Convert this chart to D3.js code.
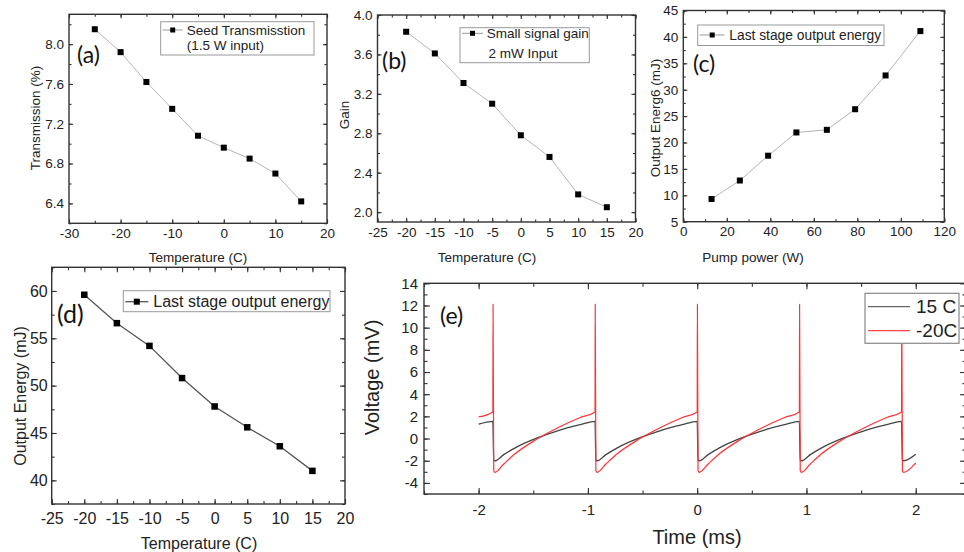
<!DOCTYPE html>
<html>
<head>
<meta charset="utf-8">
<script src="https://cdn.jsdelivr.net/npm/d3@7"></script>
<style>
body { margin: 0; background: #fff; }
svg { display: block; font-family: "Liberation Sans", Arial, sans-serif; }
</style>
</head>
<body>
<div id="chart"></div>
<script>
// (a) seed transmission vs temperature
var tempA = [-25, -20, -15, -10, -5, 0, 5, 10, 15];
var transA = [8.15, 7.92, 7.62, 7.35, 7.08, 6.96, 6.85, 6.70, 6.42];
// (b) small signal gain vs temperature
var tempB = [-20, -15, -10, -5, 0, 5, 10, 15];
var gainB = [3.83, 3.61, 3.31, 3.10, 2.78, 2.56, 2.18, 2.05];
// (c) last stage output energy vs pump power
var pumpC = [13, 26, 39, 52, 66, 79, 93, 109];
var energyC = [9.3, 12.8, 17.5, 21.9, 22.4, 26.3, 32.7, 41.1];
// (d) last stage output energy vs temperature
var tempD = [-20, -15, -10, -5, 0, 5, 10, 15];
var energyD = [59.6, 56.6, 54.2, 50.8, 47.8, 45.6, 43.6, 41.0];

// (e) scope traces, time in ms, voltage in mV
var timeRed = [-2.0, -1.87, -1.868, -1.862, -1.85, -1.77, -1.67, -1.47, -1.27, -1.07,
	-0.935, -0.933, -0.927, -0.915, -0.835, -0.735, -0.535, -0.335, -0.135,
	0.0, 0.002, 0.008, 0.02, 0.1, 0.2, 0.4, 0.6, 0.8,
	0.935, 0.937, 0.943, 0.955, 1.035, 1.135, 1.335, 1.535, 1.735,
	1.87, 1.872, 1.878, 1.89, 2.0];
var voltRed = [1.95, 2.4, 12.1, -2.9, -3.05, -2.3, -1.4, -0.07, 1.0, 1.9,
	2.4, 12.1, -2.9, -3.05, -2.3, -1.4, -0.07, 1.0, 1.9,
	2.4, 12.1, -2.9, -3.05, -2.3, -1.4, -0.07, 1.0, 1.9,
	2.4, 12.1, -2.9, -3.05, -2.3, -1.4, -0.07, 1.0, 1.9,
	2.4, 12.1, -2.9, -3.05, -2.2];
var timeGray = [-2.0, -1.87, -1.862, -1.85, -1.77, -1.67, -1.47, -1.27, -1.07,
	-0.935, -0.927, -0.915, -0.835, -0.735, -0.535, -0.335, -0.135,
	0.0, 0.008, 0.02, 0.1, 0.2, 0.4, 0.6, 0.8,
	0.935, 0.943, 0.955, 1.035, 1.135, 1.335, 1.535, 1.735,
	1.87, 1.878, 1.89, 2.0];
var voltGray = [1.29, 1.55, -1.95, -2.0, -1.45, -0.86, 0.03, 0.72, 1.25,
	1.55, -1.95, -2.0, -1.45, -0.86, 0.03, 0.72, 1.25,
	1.55, -1.95, -2.0, -1.45, -0.86, 0.03, 0.72, 1.25,
	1.55, -1.95, -2.0, -1.45, -0.86, 0.03, 0.72, 1.25,
	1.55, -1.95, -2.0, -1.42];

// tick values
var ticksA_x = [-30, -20, -10, 0, 10, 20], ticksA_y = [6.4, 6.8, 7.2, 7.6, 8.0];
var ticksB_x = [-25, -20, -15, -10, -5, 0, 5, 10, 15, 20], ticksB_y = [2.0, 2.4, 2.8, 3.2, 3.6, 4.0];
var ticksC_x = [0, 20, 40, 60, 80, 100, 120], ticksC_y = [5, 10, 15, 20, 25, 30, 35, 40, 45];
var ticksD_x = [-25, -20, -15, -10, -5, 0, 5, 10, 15, 20], ticksD_y = [40, 45, 50, 55, 60];
var ticksE_x = [-2, -1, 0, 1, 2], ticksE_y = [-4, -2, 0, 2, 4, 6, 8, 10, 12, 14];

var svg = d3.select("#chart").append("svg")
	.attr("width", 964)
	.attr("height", 552);

// plain hyphen minus like the original figure
function fmtWith(spec){
	var f = d3.format(spec);
	return function(v){ return f(v).replace("\u2212", "-"); };
}

function minors(major, step, dom){
	var out = [];
	var lo = major[0] - step, hi = major[major.length - 1] + step;
	for (var v = lo; v <= hi + 1e-9; v += step) {
		var r = Math.round(v * 1000) / 1000;
		if (r >= dom[0] - 1e-9 && r <= dom[1] + 1e-9) out.push(r);
	}
	return out;
}

function styleAxis(g, fs){
	g.select(".domain").remove();
	g.attr("font-family", null);
	g.selectAll("line").attr("stroke", "#333").attr("stroke-width", 1.1);
	g.selectAll("text").attr("fill", "#222").attr("font-size", fs);
}

function panel(p){
	var x = d3.scaleLinear().domain(p.xDomain).range([p.left, p.right]);
	var y = d3.scaleLinear().domain(p.yDomain).range([p.bottom, p.top]);
	var g = svg.append("g");
	var xm = minors(p.xTicks, p.xStep / 2, p.xDomain);
	var ym = minors(p.yTicks, p.yStep / 2, p.yDomain);

	// minor ticks on all four sides
	[[d3.axisBottom(x), p.bottom, 0, xm], [d3.axisTop(x), p.top, 0, xm],
	 [d3.axisLeft(y), 0, p.left, ym], [d3.axisRight(y), 0, p.right, ym]].forEach(function(a){
		g.append("g").attr("transform", "translate(" + a[2] + "," + a[1] + ")")
			.call(a[0].tickValues(a[3]).tickSize(-p.minor).tickFormat(""))
			.call(styleAxis, p.fs);
	});
	// major ticks with labels
	g.append("g").attr("transform", "translate(0," + p.bottom + ")")
		.call(d3.axisBottom(x).tickValues(p.xTicks).tickSize(-p.major).tickPadding(p.padX).tickFormat(fmtWith("d")))
		.call(styleAxis, p.fs);
	g.append("g").attr("transform", "translate(" + p.left + ",0)")
		.call(d3.axisLeft(y).tickValues(p.yTicks).tickSize(-p.major).tickPadding(p.padY).tickFormat(fmtWith(p.yFmt || "d")))
		.call(styleAxis, p.fs);
	g.append("g").attr("transform", "translate(0," + p.top + ")")
		.call(d3.axisTop(x).tickValues(p.xTicks).tickSize(-p.major).tickFormat(""))
		.call(styleAxis, p.fs);
	g.append("g").attr("transform", "translate(" + p.right + ",0)")
		.call(d3.axisRight(y).tickValues(p.yTicks).tickSize(-p.major).tickFormat(""))
		.call(styleAxis, p.fs);

	g.append("rect")
		.attr("x", p.left).attr("y", p.top)
		.attr("width", p.right - p.left).attr("height", p.bottom - p.top)
		.attr("fill", "none").attr("stroke", "#333").attr("stroke-width", 1.4);

	// axis titles
	g.append("text")
		.attr("x", p.xLabelX).attr("y", p.xLabelY)
		.attr("text-anchor", "middle").attr("dominant-baseline", "central")
		.attr("font-size", p.labelFs).attr("fill", "#222")
		.text(p.xLabel);
	g.append("text")
		.attr("transform", "translate(" + p.yLabelX + "," + p.yLabelY + ") rotate(-90)")
		.attr("text-anchor", "middle").attr("dominant-baseline", "central")
		.attr("font-size", p.labelFs).attr("fill", "#222")
		.text(p.yLabel);

	// panel tag
	g.append("text")
		.attr("x", p.tagX).attr("y", p.tagY)
		.attr("dominant-baseline", "central")
		.attr("font-family", "Lato, 'Open Sans', sans-serif")
		.attr("font-size", p.tagFs).attr("fill", "#111")
		.text(p.tag);

	return {g: g, x: x, y: y};
}

function scatterLine(pn, xs, ys, color, lw, ms){
	var pts = xs.map(function(v, i){ return [v, ys[i]]; });
	pn.g.append("path")
		.attr("d", d3.line().x(function(d){ return pn.x(d[0]); }).y(function(d){ return pn.y(d[1]); })(pts))
		.attr("fill", "none").attr("stroke", color).attr("stroke-width", lw);
	pn.g.selectAll(null).data(pts).enter().append("rect")
		.attr("x", function(d){ return pn.x(d[0]) - ms / 2; })
		.attr("y", function(d){ return pn.y(d[1]) - ms / 2; })
		.attr("width", ms).attr("height", ms)
		.attr("fill", "#000");
}

function legendBox(g, b, lines, color, lw, ms, fs){
	g.append("rect")
		.attr("x", b.x).attr("y", b.y).attr("width", b.w).attr("height", b.h)
		.attr("fill", "#fff").attr("stroke", "#999").attr("stroke-width", 1);
	g.append("line")
		.attr("x1", b.x + 2).attr("x2", b.x + b.lineW).attr("y1", b.ly).attr("y2", b.ly)
		.attr("stroke", color).attr("stroke-width", lw);
	g.append("rect")
		.attr("x", b.x + 2 + (b.lineW - 2) / 2 - ms / 2).attr("y", b.ly - ms / 2)
		.attr("width", ms).attr("height", ms).attr("fill", "#000");
	lines.forEach(function(t){
		g.append("text")
			.attr("x", t.x).attr("y", t.y)
			.attr("dominant-baseline", "central")
			.attr("font-size", fs).attr("fill", "#222")
			.text(t.s);
	});
}

// ---- (a)
var pa = panel({left: 69, right: 327, top: 14.3, bottom: 223.3,
	xDomain: [-30, 20], yDomain: [6.2, 8.3], xTicks: ticksA_x, yTicks: ticksA_y,
	xStep: 10, yStep: 0.4, yFmt: ".1f", major: 4, minor: 2.5, padX: 5, padY: 5, fs: 13.5,
	xLabel: "Temperature (C)", xLabelX: 198, xLabelY: 257,
	yLabel: "Transmission (%)", yLabelX: 35, yLabelY: 118, labelFs: 13.5,
	tag: "(a)", tagX: 77, tagY: 54, tagFs: 23});
scatterLine(pa, tempA, transA, "#b5b5b5", 1, 6);
legendBox(pa.g, {x: 160.7, y: 21.7, w: 153.3, h: 33.3, lineW: 22, ly: 30},
	[{s: "Seed Transmisstion", x: 186.7, y: 30}, {s: "(1.5 W input)", x: 186.7, y: 45}],
	"#999", 1, 5, 13.5);

// ---- (b)
var pb = panel({left: 377.5, right: 635.5, top: 15, bottom: 222,
	xDomain: [-25, 20], yDomain: [1.9, 4.0], xTicks: ticksB_x, yTicks: ticksB_y,
	xStep: 5, yStep: 0.4, yFmt: ".1f", major: 4, minor: 2.5, padX: 5, padY: 5, fs: 13.5,
	xLabel: "Temperature (C)", xLabelX: 487, xLabelY: 257,
	yLabel: "Gain", yLabelX: 344, yLabelY: 115, labelFs: 13.5,
	tag: "(b)", tagX: 382, tagY: 60, tagFs: 23});
scatterLine(pb, tempB, gainB, "#b5b5b5", 1, 6);
legendBox(pb.g, {x: 460, y: 27.7, w: 129.3, h: 35, lineW: 23, ly: 33.3},
	[{s: "Small signal gain", x: 486.7, y: 33.3}, {s: "2 mW Input", x: 488.5, y: 53}],
	"#999", 1, 5, 13.5);

// ---- (c)
var pc = panel({left: 683.3, right: 944.3, top: 10.5, bottom: 221.7,
	xDomain: [0, 120], yDomain: [5, 45], xTicks: ticksC_x, yTicks: ticksC_y,
	xStep: 20, yStep: 5, major: 4, minor: 2.5, padX: 5, padY: 5, fs: 13.5,
	xLabel: "Pump power (W)", xLabelX: 753, xLabelY: 257,
	yLabel: "Output Energ6 (mJ)", yLabelX: 655, yLabelY: 118, labelFs: 13.5,
	tag: "(c)", tagX: 693, tagY: 63, tagFs: 23});
scatterLine(pc, pumpC, energyC, "#b5b5b5", 1, 6);
legendBox(pc.g, {x: 697.7, y: 25, w: 186.3, h: 20.5, lineW: 27, ly: 35},
	[{s: "Last stage output energy", x: 729.3, y: 35}],
	"#999", 1, 5, 13.8);

// ---- (d)
var pd = panel({left: 51.7, right: 345, top: 267.3, bottom: 504,
	xDomain: [-25, 20], yDomain: [37.5, 62.5], xTicks: ticksD_x, yTicks: ticksD_y,
	xStep: 5, yStep: 5, major: 5, minor: 3, padX: 8.5, padY: 4, fs: 16,
	xLabel: "Temperature (C)", xLabelX: 199, xLabelY: 543,
	yLabel: "Output Energy (mJ)", yLabelX: 20, yLabelY: 396, labelFs: 16,
	tag: "(d)", tagX: 57, tagY: 313, tagFs: 25});
scatterLine(pd, tempD, energyD, "#555", 1.3, 6.5);
legendBox(pd.g, {x: 123.3, y: 290.7, w: 206.7, h: 21, lineW: 25, ly: 301.7},
	[{s: "Last stage output energy", x: 153.3, y: 301.7}],
	"#555", 1.3, 6, 16);

// ---- (e)
var pe = panel({left: 424, right: 966, top: 283.3, bottom: 494,
	xDomain: [-2.5, 2.46], yDomain: [-5, 14], xTicks: ticksE_x, yTicks: ticksE_y,
	xStep: 1, yStep: 2, major: 6, minor: 3.5, padX: 10, padY: 6, fs: 15,
	xLabel: "Time (ms)", xLabelX: 697, xLabelY: 537,
	yLabel: "Voltage (mV)", yLabelX: 372, yLabelY: 377.5, labelFs: 20,
	tag: "(e)", tagX: 440, tagY: 315, tagFs: 23});

var traceLine = d3.line()
	.x(function(d){ return pe.x(d[0]); })
	.y(function(d){ return pe.y(d[1]); })
	.curve(d3.curveMonotoneX);
var gray = timeGray.map(function(t, i){ return [t, voltGray[i]]; });
var red = timeRed.map(function(t, i){ return [t, voltRed[i]]; });
pe.g.append("path").attr("d", traceLine(gray))
	.attr("fill", "none").attr("stroke", "#444").attr("stroke-width", 1.3);
pe.g.append("path").attr("d", traceLine(red))
	.attr("fill", "none").attr("stroke", "#ff3333").attr("stroke-width", 1.2);

// legend (e)
var le = pe.g.append("g");
le.append("rect").attr("x", 865).attr("y", 293.3).attr("width", 94).attr("height", 50)
	.attr("fill", "#fff").attr("stroke", "#888").attr("stroke-width", 1.2);
[["15 C", "#666", 306.7], ["-20C", "#ff4444", 330.7]].forEach(function(d){
	le.append("line").attr("x1", 868).attr("x2", 910).attr("y1", d[2]).attr("y2", d[2])
		.attr("stroke", d[1]).attr("stroke-width", 1.3);
	le.append("text").attr("x", 916).attr("y", d[2])
		.attr("dominant-baseline", "central")
		.attr("font-size", 19).attr("fill", "#222")
		.text(d[0]);
});
</script>
</body>
</html>
